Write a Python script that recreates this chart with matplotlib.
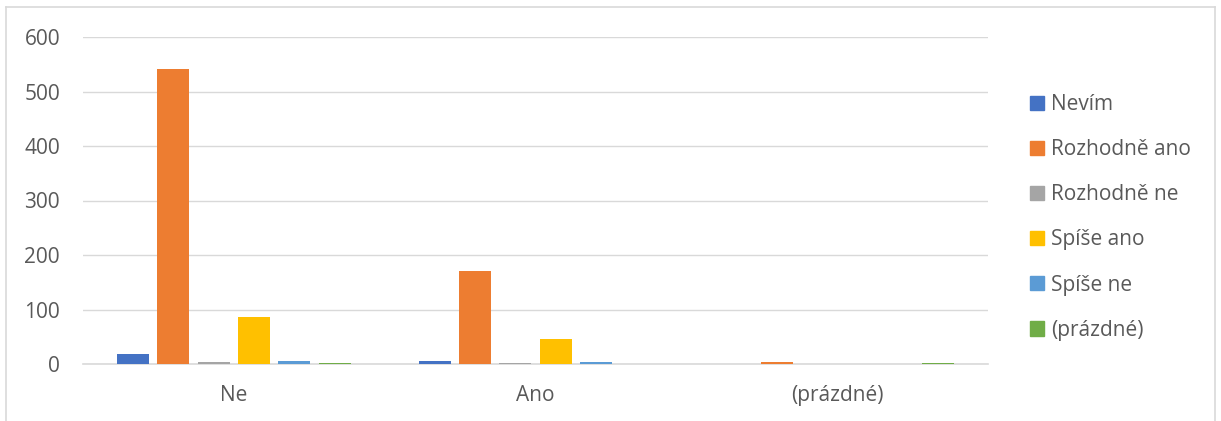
import matplotlib
matplotlib.use("Agg")
import matplotlib.pyplot as plt
import numpy as np
from matplotlib.lines import Line2D

categories = ["Ne", "Ano", "(prázdné)"]
series_names = ["Nevím", "Rozhodně ano", "Rozhodně ne", "Spíše ano", "Spíše ne", "(prázdné)"]
nevim = [18, 5, 0]
rozhodne_ano = [541, 171, 4]
rozhodne_ne = [4, 2, 0]
spise_ano = [86, 46, 0]
spise_ne = [6, 4, 0]
prazdne = [2, 0, 1]
colors = ["#4472C4", "#ED7D31", "#A5A5A5", "#FFC000", "#5B9BD5", "#70AD47"]
yticks = [0, 100, 200, 300, 400, 500, 600]

series = [nevim, rozhodne_ano, rozhodne_ne, spise_ano, spise_ne, prazdne]

W, H = 1221, 421
fig = plt.figure(figsize=(W / 100, H / 100), dpi=100)
plt.rcParams['font.family'] = ['Open Sans', 'DejaVu Sans']
FS = 15

ax = fig.add_axes([83 / W, 1 - 364 / H, (988 - 83) / W, (364 - 37) / H])

x = np.arange(len(categories))
step = 0.1335
width = 0.106
n = len(series)
for i, (vals, c, name) in enumerate(zip(series, colors, series_names)):
    offs = (i - (n - 1) / 2) * step
    ax.bar(x + offs, vals, width=width, color=c, label=name, zorder=3)

ax.set_xlim(-0.5, 2.5)
ax.set_ylim(0, 600)
ax.set_yticks(yticks)
ax.set_yticklabels([str(t) for t in yticks])
ax.set_xticks(x)
ax.set_xticklabels(categories)
ax.grid(axis='y', color='#d9d9d9', linewidth=1, zorder=0)
for s in ['top', 'right', 'left']:
    ax.spines[s].set_visible(False)
ax.spines['bottom'].set_color('#d9d9d9')
ax.spines['bottom'].set_linewidth(1.2)
ax.tick_params(axis='both', length=0, labelsize=FS, labelcolor='#595959')
ax.tick_params(axis='y', pad=16.5)
ax.tick_params(axis='x', pad=15)

handles = [plt.Rectangle((0, 0), 1, 1, color=c) for c in colors]
fig.legend(handles, series_names, loc='upper left',
           bbox_to_anchor=(1030 / W, 1 - 94 / H), frameon=False,
           fontsize=FS, labelcolor='#595959', handlelength=0.67,
           handleheight=0.67, handletextpad=0.35, labelspacing=1.16,
           borderaxespad=0, borderpad=0)

# chart area border
bc = '#d9d9d9'
fig.add_artist(Line2D([6 / W, 6 / W], [0, 1 - 7 / H], color=bc, lw=1.2, transform=fig.transFigure))
fig.add_artist(Line2D([1215 / W, 1215 / W], [0, 1 - 7 / H], color=bc, lw=1.2, transform=fig.transFigure))
fig.add_artist(Line2D([6 / W, 1215 / W], [1 - 7 / H, 1 - 7 / H], color=bc, lw=1.2, transform=fig.transFigure))

fig.savefig("out.png", dpi=100)
